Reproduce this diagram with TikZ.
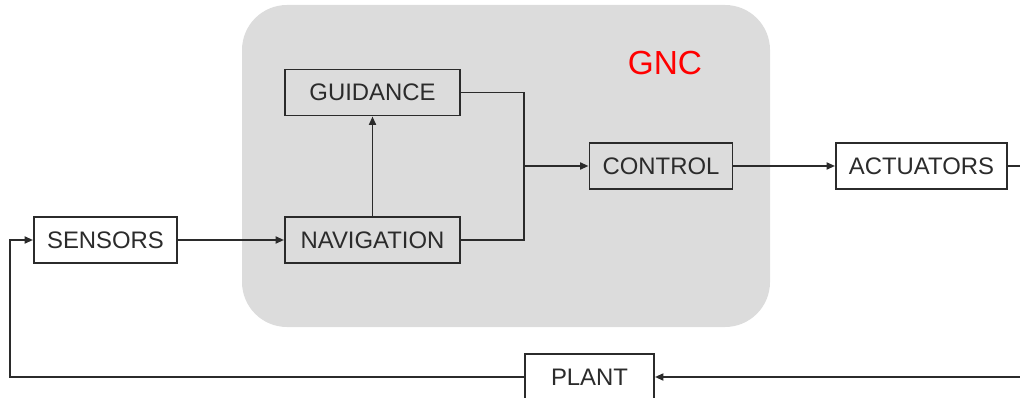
\documentclass[tikz,border=0pt]{standalone}
\usepackage{fontspec}
\setmainfont{Liberation Sans}
\usetikzlibrary{arrows.meta}
\definecolor{gncgray}{HTML}{DCDCDC}
\definecolor{linegray}{HTML}{2B2B2B}
\tikzset{
  blockbox/.style = {draw = linegray, line width = 1.1pt, minimum height = 0.92cm,
    inner sep = 0pt, text = linegray, font = \fontsize{13.6}{15}\selectfont},
  wire/.style = {draw = linegray, line width = 1.1pt},
  flow/.style = {wire, -{Triangle[length = 1.7mm, width = 1.4mm]}}
}

\begin{document}
\begin{tikzpicture}[x = 0.02cm, y = -0.02cm]
  \useasboundingbox (0, 0) rectangle (1020, 398);

  % GNC area
  \fill[gncgray, rounded corners = 0.9cm] (242, 5) rectangle (770, 327);
  \node[text = red, font = \fontsize{19}{22}\selectfont] (gnc) at (665, 63) {GNC};

  \node[blockbox, fill = white, minimum width = 2.86cm] (sensors) at (105.5, 240) {SENSORS};
  \node[blockbox, minimum width = 3.5cm] (navigation) at (372.5, 240) {NAVIGATION};
  \node[blockbox, minimum width = 3.5cm] (guidance) at (372.5, 92.5) {GUIDANCE};
  \node[blockbox, minimum width = 2.86cm] (control) at (661, 166) {CONTROL};
  \node[blockbox, fill = white, minimum width = 3.42cm] (actuators) at (921.5, 166) {ACTUATORS};
  \node[blockbox, fill = white, minimum width = 2.58cm] (plant) at (589.5, 377) {PLANT};

  \coordinate (join) at (524, 166);
  \coordinate (outR) at (1020, 166);
  \coordinate (inR) at (1020, 377);
  \coordinate (backL) at (10, 377);

  \draw[flow] (sensors) -- (navigation);
  \draw[flow] (navigation) -- (guidance);
  \draw[wire] (guidance.east) -| (join) |- (navigation.east);
  \draw[flow] (join) -- (control);
  \draw[flow] (control) -- (actuators);
  \draw[wire] (actuators) -- (outR);
  \draw[flow] (inR) -- (plant);
  \draw[flow] (plant.west) -- (backL) |- (sensors.west);
\end{tikzpicture}
\end{document}
